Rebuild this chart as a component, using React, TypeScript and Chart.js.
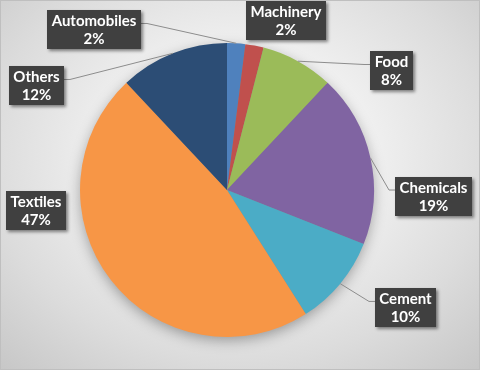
import { useEffect, useRef } from "react";
import { Chart, registerables } from "chart.js";

Chart.register(...registerables);

const categories = ["Automobiles", "Machinery", "Food", "Chemicals", "Cement", "Textiles", "Others"];
const shares = [2, 2, 8, 19, 10, 47, 12];
const sliceColors = ["#4F81BD", "#C0504D", "#9BBB59", "#8064A2", "#4BACC6", "#F79646", "#2C4D75"];
// label box centre, in pie radii relative to the pie centre
const labelOffsets = [
  [-0.905, -1.092],
  [0.398, -1.15],
  [1.116, -0.813],
  [1.405, 0.041],
  [1.211, 0.799],
  [-1.296, 0.139],
  [-1.293, -0.711],
];
const showLeader = [true, false, true, true, true, false, true];

const labelPlugin = {
  id: "excelLabels",
  beforeDatasetsDraw(chart: any) {
    const meta = chart.getDatasetMeta(0);
    const arc = meta.data[0];
    if (!arc) return;
    const { x, y, outerRadius } = arc.getProps(["x", "y", "outerRadius"], true);
    const ctx = chart.ctx;
    ctx.save();
    ctx.shadowColor = "rgba(0,0,0,0.35)";
    ctx.shadowBlur = 14;
    ctx.shadowOffsetY = 4;
    ctx.fillStyle = "#888";
    ctx.beginPath();
    ctx.arc(x, y, outerRadius - 1, 0, Math.PI * 2);
    ctx.fill();
    ctx.restore();
  },
  afterDatasetsDraw(chart: any) {
    const ctx = chart.ctx;
    const meta = chart.getDatasetMeta(0);
    const total = shares.reduce((a, b) => a + b, 0);
    meta.data.forEach((el: any, i: number) => {
      const p = el.getProps(["x", "y", "startAngle", "endAngle", "outerRadius"], true);
      const mid = (p.startAngle + p.endAngle) / 2;
      const ax = p.x + Math.cos(mid) * p.outerRadius;
      const ay = p.y + Math.sin(mid) * p.outerRadius;
      const cx = p.x + labelOffsets[i][0] * p.outerRadius;
      const cy = p.y + labelOffsets[i][1] * p.outerRadius;
      ctx.save();
      ctx.font = "bold 15px Lato, 'Open Sans', sans-serif";
      const l1 = categories[i];
      const l2 = Math.round((shares[i] / total) * 100) + "%";
      const tw = Math.max(ctx.measureText(l1).width, ctx.measureText(l2).width);
      const w = Math.round(tw + 9);
      const h = 39;
      const bx = Math.round(cx - w / 2);
      const by = Math.round(cy - h / 2);
      if (showLeader[i]) {
        const leftSide = cx < ax;
        const ex = leftSide ? bx + w : bx;
        const ey = cy - 6;
        const elbow = leftSide ? ex + 6 : ex - 6;
        ctx.strokeStyle = "#8c8c8c";
        ctx.lineWidth = 1;
        ctx.beginPath();
        ctx.moveTo(ax, ay);
        ctx.lineTo(elbow, ey);
        ctx.lineTo(ex, ey);
        ctx.stroke();
      }
      ctx.shadowColor = "rgba(0,0,0,0.45)";
      ctx.shadowBlur = 3;
      ctx.shadowOffsetX = 2;
      ctx.shadowOffsetY = 2;
      ctx.fillStyle = "#404040";
      ctx.fillRect(bx, by, w, h);
      ctx.shadowColor = "transparent";
      ctx.fillStyle = "#ffffff";
      ctx.textAlign = "center";
      ctx.textBaseline = "middle";
      ctx.fillText(l1, bx + w / 2, by + 11);
      ctx.fillText(l2, bx + w / 2, by + 29);
      ctx.restore();
    });
  },
};

export default function App() {
  const ref = useRef<HTMLCanvasElement | null>(null);
  useEffect(() => {
    document.body.style.margin = "0";
    const chart = new Chart(ref.current!, {
      type: "pie",
      data: {
        labels: categories,
        datasets: [
          {
            data: shares,
            backgroundColor: sliceColors,
            borderWidth: 0,
          },
        ],
      },
      options: {
        animation: false,
        responsive: false,
        maintainAspectRatio: false,
        layout: { padding: { left: 80, right: 106, top: 43, bottom: 33 } },
        plugins: {
          legend: { display: false },
          tooltip: { enabled: false },
        },
      },
      plugins: [labelPlugin],
    });
    return () => chart.destroy();
  }, []);
  return (
    <div
      style={{
        position: "relative",
        width: 480,
        height: 370,
        boxSizing: "border-box",
        border: "1px solid #bfbfbf",
        background:
          "radial-gradient(ellipse 75% 80% at 50% 42%, #ffffff 0%, #f4f4f4 30%, #dcdcdc 70%, #c6c6c6 100%)",
        overflow: "hidden",
      }}
    >
      <canvas ref={ref} width={480} height={370} style={{ position: "absolute", left: -1, top: -1 }} />
    </div>
  );
}
